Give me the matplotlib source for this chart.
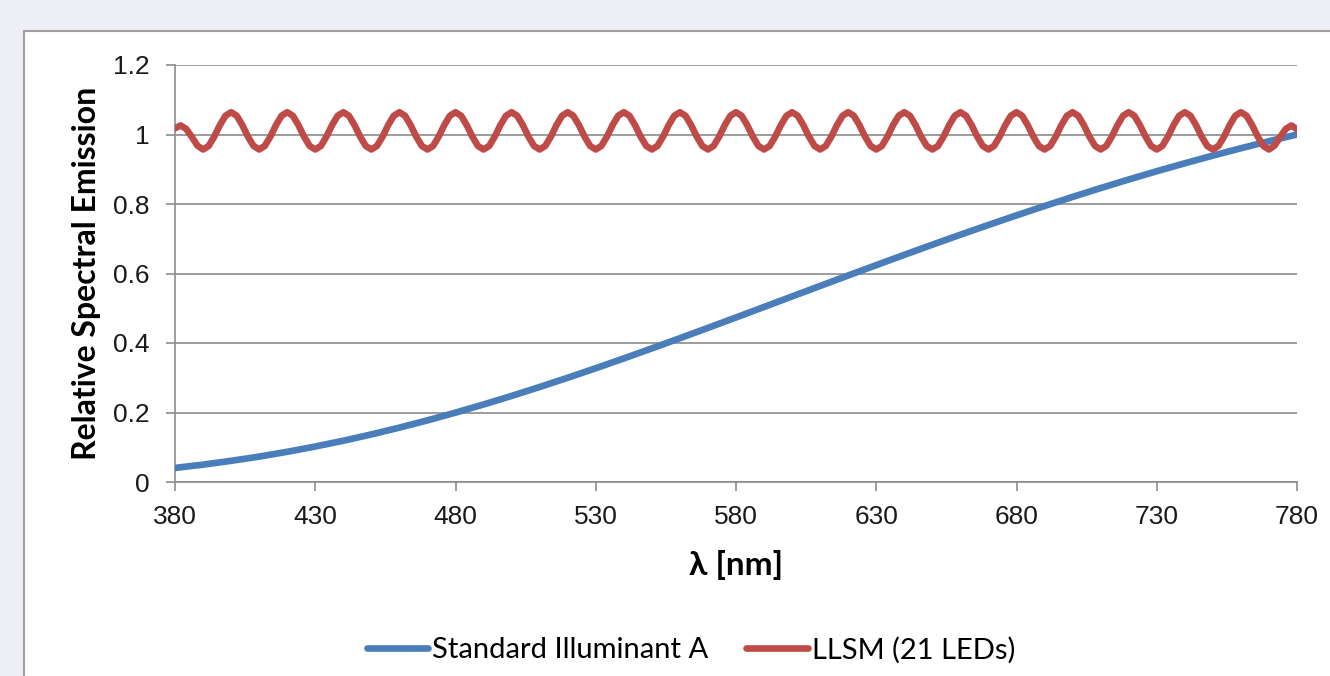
import matplotlib
matplotlib.use("Agg")
import matplotlib.pyplot as plt
from matplotlib.patches import Rectangle

# wavelength grids (nm)
wl_a = [380, 390, 400, 410, 420, 430, 440, 450, 460, 470, 480,
        490, 500, 510, 520, 530, 540, 550, 560, 570, 580,
        590, 600, 610, 620, 630, 640, 650, 660, 670, 680,
        690, 700, 710, 720, 730, 740, 750, 760, 770, 780]
wl_llsm = list(range(380, 782, 2))

# CIE standard illuminant A, normalised to 1 at 780 nm
illum_a = [0.0405, 0.0500, 0.0609, 0.0731, 0.0869, 0.1021, 0.1188, 0.1369, 0.1565, 0.1774, 0.1996,
           0.2231, 0.2477, 0.2734, 0.3000, 0.3274, 0.3556, 0.3845, 0.4138, 0.4435, 0.4735,
           0.5037, 0.5340, 0.5642, 0.5943, 0.6241, 0.6537, 0.6829, 0.7116, 0.7397, 0.7673,
           0.7942, 0.8204, 0.8458, 0.8705, 0.8943, 0.9172, 0.9393, 0.9604, 0.9807, 1.0000]

# summed LED spectrum, sampled every 2 nm
llsm = [1.018, 1.026, 1.016, 0.993, 0.968,
        0.957, 0.967, 0.994, 1.027, 1.054, 1.064, 1.054, 1.027, 0.994, 0.967,   # 390
        0.957, 0.967, 0.994, 1.027, 1.054, 1.064, 1.054, 1.027, 0.994, 0.967,   # 410
        0.957, 0.967, 0.994, 1.027, 1.054, 1.064, 1.054, 1.027, 0.994, 0.967,   # 430
        0.957, 0.967, 0.994, 1.027, 1.054, 1.064, 1.054, 1.027, 0.994, 0.967,   # 450
        0.957, 0.967, 0.994, 1.027, 1.054, 1.064, 1.054, 1.027, 0.994, 0.967,   # 470
        0.957, 0.967, 0.994, 1.027, 1.054, 1.064, 1.054, 1.027, 0.994, 0.967,   # 490
        0.957, 0.967, 0.994, 1.027, 1.054, 1.064, 1.054, 1.027, 0.994, 0.967,   # 510
        0.957, 0.967, 0.994, 1.027, 1.054, 1.064, 1.054, 1.027, 0.994, 0.967,   # 530
        0.957, 0.967, 0.994, 1.027, 1.054, 1.064, 1.054, 1.027, 0.994, 0.967,   # 550
        0.957, 0.967, 0.994, 1.027, 1.054, 1.064, 1.054, 1.027, 0.994, 0.967,   # 570
        0.957, 0.967, 0.994, 1.027, 1.054, 1.064, 1.054, 1.027, 0.994, 0.967,   # 590
        0.957, 0.967, 0.994, 1.027, 1.054, 1.064, 1.054, 1.027, 0.994, 0.967,   # 610
        0.957, 0.967, 0.994, 1.027, 1.054, 1.064, 1.054, 1.027, 0.994, 0.967,   # 630
        0.957, 0.967, 0.994, 1.027, 1.054, 1.064, 1.054, 1.027, 0.994, 0.967,   # 650
        0.957, 0.967, 0.994, 1.027, 1.054, 1.064, 1.054, 1.027, 0.994, 0.967,   # 670
        0.957, 0.967, 0.994, 1.027, 1.054, 1.064, 1.054, 1.027, 0.994, 0.967,   # 690
        0.957, 0.967, 0.994, 1.027, 1.054, 1.064, 1.054, 1.027, 0.994, 0.967,   # 710
        0.957, 0.967, 0.994, 1.027, 1.054, 1.064, 1.054, 1.027, 0.994, 0.967,   # 730
        0.957, 0.967, 0.994, 1.027, 1.054, 1.064, 1.054, 1.027, 0.994, 0.967,   # 750
        0.957, 0.968, 0.993, 1.016, 1.026, 1.015]

x_ticks = [380, 430, 480, 530, 580, 630, 680, 730, 780]
y_ticks = [0, 0.2, 0.4, 0.6, 0.8, 1, 1.2]
y_ticklabels = ["0", "0.2", "0.4", "0.6", "0.8", "1", "1.2"]

BLUE = "#4a7ebb"
RED = "#be4b48"
GRID = "#8c8c8c"

plt.rcParams["font.family"] = ["Liberation Sans", "DejaVu Sans"]

fig = plt.figure(figsize=(13.3, 6.76), dpi=100)
fig.patch.set_facecolor("#eeeef7")

# white chart area with grey frame, kept behind the axes
frame = Rectangle((24 / 1330, -0.1), 1.2, 1 - 31 / 676 + 0.1, transform=fig.transFigure,
                  facecolor="white", edgecolor="#a0a0a0", linewidth=1.5, zorder=-1)
fig.patches.append(frame)

ax = fig.add_axes([175 / 1330, 1 - 482 / 676, (1297 - 175) / 1330, (482 - 65) / 676])
ax.set_facecolor("none")
ax.set_zorder(1)

ax.plot(wl_a, illum_a, color=BLUE, lw=4.8, solid_capstyle="round", solid_joinstyle="round",
        label="Standard Illuminant A", zorder=3)
ax.plot(wl_llsm, llsm, color=RED, lw=4.8, solid_capstyle="round", solid_joinstyle="round",
        label="LLSM (21 LEDs)", zorder=4)

ax.set_xlim(380, 780)
ax.set_ylim(0, 1.2)
ax.set_xticks(x_ticks)
ax.set_yticks(y_ticks)
ax.set_yticklabels(y_ticklabels)
ax.grid(axis="y", color=GRID, lw=1.2)
ax.set_axisbelow(True)

for side in ["top", "right"]:
    ax.spines[side].set_visible(False)
for side in ["left", "bottom"]:
    ax.spines[side].set_color(GRID)
    ax.spines[side].set_linewidth(1.2)

ax.tick_params(axis="both", direction="out", length=6.5, width=1.2, color=GRID,
               labelsize=19, labelcolor="#1a1a1a")
ax.tick_params(axis="y", pad=12)
ax.tick_params(axis="x", pad=10)

lab_font = ["Lato", "Open Sans", "DejaVu Sans"]
ax.set_ylabel("Relative Spectral Emission", fontsize=23, fontweight="bold", family=lab_font)
ax.yaxis.set_label_coords(-0.066, 0.5)
ax.set_xlabel("λ [nm]", fontsize=24, fontweight="bold", family=lab_font)
ax.xaxis.set_label_coords(0.5, -0.163)

fig.legend(loc="center", bbox_to_anchor=(0.5195, 1 - 650 / 676), ncol=2, frameon=False,
           prop={"family": lab_font, "size": 21}, handlelength=2.1, handletextpad=0.15,
           columnspacing=1.3)

fig.savefig("out.png", dpi=100, facecolor=fig.get_facecolor())
